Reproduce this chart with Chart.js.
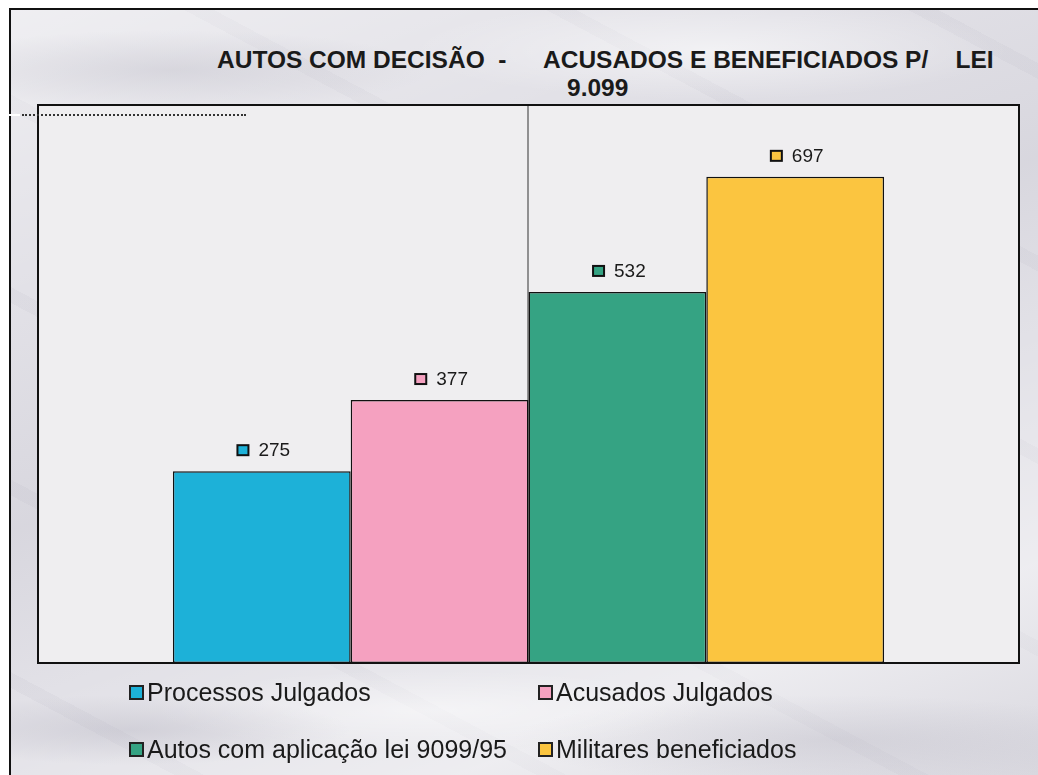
<!DOCTYPE html>
<html>
<head>
<meta charset="utf-8">
<script src="https://cdn.jsdelivr.net/npm/chart.js@4.4.1/dist/chart.umd.min.js"></script>
<style>
  html, body { margin:0; padding:0; background:#fff; }
  body { width:1038px; height:775px; position:relative; overflow:hidden; font-family:"Liberation Sans", Arial, sans-serif; }
  #frame {
    position:absolute; left:9px; top:8px; width:1040px; height:780px;
    border-left:2px solid #111; border-top:2px solid #111;
    background-color:#e2e1e7;
    background-image:
      radial-gradient(ellipse 260px 40px at 160px 60px, rgba(150,148,165,.22), rgba(150,148,165,0)),
      radial-gradient(ellipse 300px 50px at 700px 40px, rgba(255,255,255,.55), rgba(255,255,255,0)),
      radial-gradient(ellipse 220px 35px at 120px 720px, rgba(150,148,165,.25), rgba(150,148,165,0)),
      radial-gradient(ellipse 320px 45px at 820px 730px, rgba(150,148,165,.2), rgba(150,148,165,0)),
      radial-gradient(ellipse 280px 40px at 420px 700px, rgba(255,255,255,.5), rgba(255,255,255,0)),
      linear-gradient(160deg, rgba(255,255,255,.45) 0%, rgba(255,255,255,0) 25%, rgba(170,168,182,.18) 45%, rgba(255,255,255,0) 60%, rgba(255,255,255,.4) 80%, rgba(170,168,182,.2) 100%),
      repeating-linear-gradient(28deg, rgba(255,255,255,0) 0 90px, rgba(150,148,165,.07) 90px 104px, rgba(255,255,255,0) 104px 170px);
  }
  canvas { position:absolute; left:0; top:0; }
  .title { position:absolute; font-weight:bold; font-size:24.5px; color:#1a1a1a; white-space:pre; line-height:1; }
  .leg { position:absolute; font-size:25px; color:#1a1a1a; white-space:pre; line-height:1; display:flex; align-items:center; }
  .leg i { display:inline-block; width:11px; height:11px; border:2px solid #222; margin-right:3px; }
  #dots { position:absolute; left:22px; top:114px; width:224px; border-top:2px dotted #333; }
  #nick { position:absolute; left:0; top:114px; width:20px; border-top:2px solid #fff; }
</style>
</head>
<body>
<div id="frame"></div>
<div class="title" id="t1" style="left:217px; top:48px;"></div>
<div class="title" id="t2" style="left:543px; top:48px;"></div>
<div class="title" id="t3" style="left:567px; top:76px;"></div>
<canvas id="c" width="1038" height="775"></canvas>
<div id="dots"></div>
<div id="nick"></div>
<div id="legend"></div>
<script>
// ---- data ----
const categories = [""];
const seriesNames = ["Processos Julgados", "Acusados Julgados", "Autos com aplicação lei 9099/95", "Militares beneficiados"];
const seriesValues = [275, 377, 532, 697];
const seriesColors = ["#1db1d8", "#f5a1c0", "#35a383", "#fbc540"];
const titleParts = ["AUTOS COM DECISÃO  -", "ACUSADOS E BENEFICIADOS P/    LEI", "9.099"];
const yMax = 800;

document.getElementById('t1').textContent = titleParts[0];
document.getElementById('t2').textContent = titleParts[1];
document.getElementById('t3').textContent = titleParts[2];

// legend (2x2)
const legPos = [[129, 680], [538, 680], [129, 737], [538, 737]];
const legEl = document.getElementById('legend');
seriesNames.forEach((n, i) => {
  const d = document.createElement('div');
  d.className = 'leg';
  d.style.left = legPos[i][0] + 'px';
  d.style.top = legPos[i][1] + 'px';
  const sq = document.createElement('i');
  sq.style.background = seriesColors[i];
  d.appendChild(sq);
  d.appendChild(document.createTextNode(n));
  legEl.appendChild(d);
});

const plotDeco = {
  id: 'plotDeco',
  beforeDatasetsDraw(chart) {
    const {ctx, chartArea: a, scales} = chart;
    ctx.save();
    ctx.fillStyle = '#efeef0';
    ctx.fillRect(a.left, a.top, a.right - a.left, a.bottom - a.top);
    const x = Math.round(scales.x.getPixelForValue(0)) - 1.5;
    ctx.strokeStyle = '#333';
    ctx.lineWidth = 1;
    ctx.beginPath();
    ctx.moveTo(x + 0.5, a.top);
    ctx.lineTo(x + 0.5, a.bottom);
    ctx.stroke();
    ctx.restore();
  },
  afterDatasetsDraw(chart) {
    const {ctx, chartArea: a} = chart;
    ctx.save();
    ctx.strokeStyle = '#111';
    ctx.lineWidth = 2;
    ctx.strokeRect(a.left, a.top, a.right - a.left, a.bottom - a.top);
    ctx.font = '19px "Liberation Sans", Arial, sans-serif';
    ctx.textBaseline = 'middle';
    chart.data.datasets.forEach((ds, i) => {
      const el = chart.getDatasetMeta(i).data[0];
      const txt = String(ds.data[0]);
      const tw = ctx.measureText(txt).width;
      const sq = 11, gap = 10;
      const total = sq + gap + tw;
      const sx = el.x - total / 2 + 2;
      const cy = el.y - 21;
      ctx.fillStyle = ds.backgroundColor;
      ctx.fillRect(sx, cy - 5, sq, 10);
      ctx.lineWidth = 2;
      ctx.strokeStyle = '#111';
      ctx.strokeRect(sx, cy - 5, sq, 10);
      ctx.fillStyle = '#1a1a1a';
      ctx.textAlign = 'left';
      ctx.fillText(txt, sx + sq + gap, cy + 1);
    });
    ctx.restore();
  }
};

new Chart(document.getElementById('c'), {
  type: 'bar',
  data: {
    labels: categories,
    datasets: seriesNames.map((n, i) => ({
      label: n,
      data: [seriesValues[i]],
      backgroundColor: seriesColors[i],
      borderColor: '#111',
      borderWidth: 1.5,
      borderSkipped: false,
      categoryPercentage: 0.725,
      barPercentage: 1.0
    }))
  },
  options: {
    responsive: false,
    devicePixelRatio: 1,
    animation: false,
    layout: { padding: { left: 38, top: 105, right: 19, bottom: 112 } },
    scales: {
      x: { display: false },
      y: { display: false, min: 0, max: yMax }
    },
    plugins: { legend: { display: false }, tooltip: { enabled: false }, title: { display: false } }
  },
  plugins: [plotDeco]
});
</script>
</body>
</html>
